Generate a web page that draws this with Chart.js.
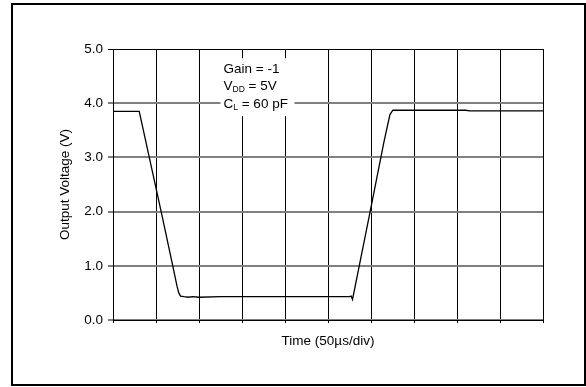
<!DOCTYPE html>
<html>
<head>
<meta charset="utf-8">
<script src="https://cdn.jsdelivr.net/npm/chart.js@4"></script>
<style>
  html, body { margin: 0; padding: 0; background: #fff; }
  canvas { display: block; }
</style>
</head>
<body>
<canvas id="c" width="586" height="387"></canvas>
<script>
// Time in divisions (50 µs/div) and output voltage (V)
const timeDiv = [0, 0.61, 1.12, 1.39, 1.49, 1.53, 1.57, 1.65, 1.75, 1.85, 2.0, 2.5, 3.0, 3.5, 4.0, 4.5, 5.0, 5.5, 5.54, 5.57, 5.98, 6.30, 6.44, 6.51, 7.0, 7.5, 8.2, 8.3, 10];
const voltage = [3.85, 3.85, 2.0, 1.0, 0.62, 0.50, 0.44, 0.43, 0.42, 0.43, 0.42, 0.43, 0.43, 0.43, 0.43, 0.43, 0.43, 0.43, 0.44, 0.38, 2.0, 3.28, 3.79, 3.87, 3.87, 3.87, 3.87, 3.86, 3.86];
const yTicks = [0, 1, 2, 3, 4, 5];
const xDivisions = [0, 1, 2, 3, 4, 5, 6, 7, 8, 9, 10];
const noteLines = [
  { main: 'Gain = -1', sub: '', rest: '' },
  { main: 'V', sub: 'DD', rest: ' = 5V' },
  { main: 'C', sub: 'L', rest: ' = 60 pF' }
];
const noteLineValues = [4.65, 4.33, 4.0];

const FONT = '"Liberation Sans", Arial, sans-serif';

const points = timeDiv.map((t, i) => ({ x: t, y: voltage[i] }));

const framePlugin = {
  id: 'frame',
  beforeDraw(chart) {
    const ctx = chart.ctx;
    ctx.save();
    ctx.fillStyle = '#fff';
    ctx.fillRect(0, 0, chart.width, chart.height);
    ctx.strokeStyle = '#000';
    ctx.lineWidth = 2;
    ctx.strokeRect(12, 4, 573, 381);
    ctx.restore();
  }
};

const notePlugin = {
  id: 'note',
  afterDatasetsDraw(chart) {
    const ctx = chart.ctx;
    const xs = chart.scales.x, ys = chart.scales.y;
    const x0 = xs.getPixelForValue(2.5), x1 = xs.getPixelForValue(4.22);
    const y0 = ys.getPixelForValue(4.83), y1 = ys.getPixelForValue(3.76);
    ctx.save();
    ctx.fillStyle = '#fff';
    ctx.fillRect(x0, y0, x1 - x0, y1 - y0);
    ctx.fillStyle = '#000';
    ctx.textBaseline = 'alphabetic';
    ctx.textAlign = 'left';
    const tx = xs.getPixelForValue(2.57);
    noteLines.forEach((ln, i) => {
      const base = ys.getPixelForValue(noteLineValues[i]) + 4.8;
      let x = tx;
      ctx.font = '13.5px ' + FONT;
      ctx.fillText(ln.main, x, base);
      x += ctx.measureText(ln.main).width;
      if (ln.sub) {
        ctx.font = '8.5px ' + FONT;
        ctx.fillText(ln.sub, x, base + 2);
        x += ctx.measureText(ln.sub).width;
      }
      if (ln.rest) {
        ctx.font = '13.5px ' + FONT;
        ctx.fillText(ln.rest, x, base);
      }
    });
    ctx.restore();
  }
};

new Chart(document.getElementById('c'), {
  type: 'line',
  data: {
    datasets: [{
      data: points,
      borderColor: '#000',
      borderWidth: 1.3,
      pointRadius: 0,
      tension: 0,
      fill: false
    }]
  },
  options: {
    responsive: false,
    animation: false,
    devicePixelRatio: 1,
    parsing: true,
    layout: { padding: { left: 57, top: 49, right: 43, bottom: 0 } },
    plugins: { legend: { display: false }, tooltip: { enabled: false } },
    scales: {
      x: {
        type: 'linear',
        min: 0, max: 10,
        afterBuildTicks(s) { s.ticks = xDivisions.map(v => ({ value: v })); },
        afterFit(s) { s.height = 67; },
        ticks: { callback: () => '', padding: 0 },
        grid: { color: '#000', lineWidth: 1, tickLength: 3, tickColor: '#000' },
        border: { color: '#000', width: 1 },
        title: {
          display: true,
          text: 'Time (50µs/div)',
          color: '#000',
          font: { family: FONT, size: 13.5 },
          padding: { top: 0, bottom: 38 }
        }
      },
      y: {
        type: 'linear',
        min: 0, max: 5,
        afterBuildTicks(s) { s.ticks = yTicks.map(v => ({ value: v })); },
        afterFit(s) { s.width = 56; },
        ticks: {
          color: '#000',
          padding: 5,
          font: { family: FONT, size: 13.5 },
          callback: v => Number(v).toFixed(1)
        },
        grid: {
          color: c => (c.tick && c.tick.value === 5) ? '#000' : '#808080',
          lineWidth: c => (c.tick && c.tick.value === 5) ? 1 : 2,
          tickLength: 5,
          tickColor: '#000',
          tickWidth: 1
        },
        border: { color: '#000', width: 1 },
        title: {
          display: true,
          text: 'Output Voltage (V)',
          color: '#000',
          font: { family: FONT, size: 13.5 },
          padding: 0
        }
      }
    }
  },
  plugins: [framePlugin, notePlugin]
});
</script>
</body>
</html>
